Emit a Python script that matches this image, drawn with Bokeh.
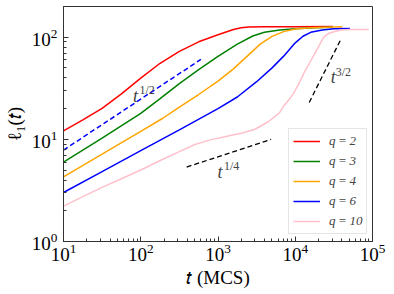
import math
from bokeh.plotting import figure
from bokeh.models import Label, Legend, LegendItem
from bokeh.embed import file_html
from bokeh.resources import INLINE

# ---- data ----
t_q2 = [10, 17.8, 31.6, 56.2, 100, 178, 316, 562, 1000, 1585, 1995, 2512, 3981, 10000, 30620]
l_q2 = [12.1, 15.5, 20.1, 27.9, 39.8, 55.6, 72.8, 90.2, 105.9, 118.9, 123.9, 125.9, 126.5, 126.8, 127.6]

t_q3 = [10, 31.6, 100, 178, 316, 562, 1000, 1778, 2818, 3981, 6310, 10000, 17780, 30200]
l_q3 = [5.98, 10.3, 18.0, 25.1, 35.1, 48.1, 64.9, 85.5, 102.8, 111.7, 118.0, 121.1, 123.6, 125.0]

t_q4 = [10, 31.6, 100, 193.2, 316, 562, 1000, 1585, 2512, 3548, 5012, 7079, 10000, 15850, 40740]
l_q4 = [4.30, 7.16, 12.0, 16.1, 20.7, 27.5, 37.2, 49.0, 67.6, 86.1, 101.9, 113.5, 120.2, 124.2, 126.5]

t_q6 = [10, 31.6, 100, 316, 1000, 1778, 3162, 5012, 7079, 10000, 12590, 15850, 22390, 31620, 51050]
l_q6 = [3.02, 4.84, 7.76, 12.4, 20.0, 26.0, 36.7, 50.1, 65.3, 88.1, 102.3, 111.7, 118.0, 120.8, 121.9]

t_q10 = [10, 17.8, 31.6, 56.2, 100, 187.5, 316, 503.5, 794, 1352, 1995, 2972, 4426, 6237,
         7228, 8511, 9727, 11220, 13060, 15140, 17580, 20420, 23660, 27540, 31770, 38730,
         50120, 89540]
l_q10 = [2.22, 2.75, 3.39, 4.12, 5.01, 6.31, 7.59, 8.91, 9.89, 10.8, 11.5, 12.5, 14.8, 18.2,
         21.6, 25.1, 29.1, 35.5, 45.2, 55.0, 67.6, 83.2, 101.4, 109.6, 113.2, 117.5,
         119.1, 119.4]

# guide lines (power laws)
t_half = [10, 601]
l_half = [7.85, 60.7]
t_threehalf = [15170, 39540]
l_threehalf = [23.0, 97.7]
t_quarter = [393, 4875]
l_quarter = [5.36, 10.0]

series_labels = ["q\u2009=\u20092", "q\u2009=\u20093", "q\u2009=\u20094",
                 "q\u2009=\u20096", "q\u2009=\u200910"]
series_colors = ["red", "green", "orange", "blue", "pink"]

SERIF = "Liberation Serif"
EDGE = "#333333"

p = figure(width=390, height=290, x_axis_type="log", y_axis_type="log",
           x_range=(10, 1e5), y_range=(1, 200),
           output_backend="svg", toolbar_location=None,
           min_border_left=61, min_border_right=18, min_border_top=6,
           min_border_bottom=43)
p.grid.visible = False
p.outline_line_color = EDGE
p.outline_line_width = 1
p.background_fill_color = "white"
p.border_fill_color = "white"

for ax in (p.xaxis[0], p.yaxis[0]):
    ax.major_tick_in = 5
    ax.major_tick_out = 0
    ax.minor_tick_in = 3
    ax.minor_tick_out = 0
    ax.axis_line_color = EDGE
    ax.major_tick_line_color = EDGE
    ax.minor_tick_line_color = EDGE
    ax.major_label_text_font = SERIF
    ax.major_label_text_font_size = "19px"
    ax.major_label_text_color = "black"
    ax.axis_label_text_font = SERIF
    ax.axis_label_text_font_size = "19px"
    ax.axis_label_text_font_style = "normal"
    ax.axis_label_text_color = "black"
p.xaxis.major_label_standoff = 2
p.yaxis.major_label_standoff = 6
p.xaxis.axis_label = "\U0001D461 (MCS)"
p.yaxis.axis_label = "\u2113\u2081(\U0001D461)"
p.xaxis.axis_label_standoff = 3
p.yaxis.axis_label_standoff = 4

data = [(t_q2, l_q2), (t_q3, l_q3), (t_q4, l_q4), (t_q6, l_q6), (t_q10, l_q10)]
items = []
for (tt, ll), lab, col in zip(data, series_labels, series_colors):
    r = p.line(tt, ll, line_color=col, line_width=1.5)
    items.append(LegendItem(label=lab, renderers=[r]))

p.line(t_half, l_half, line_color="blue", line_width=1.5, line_dash="5 3")
p.line(t_threehalf, l_threehalf, line_color="black", line_width=1.3, line_dash="5 3")
p.line(t_quarter, l_quarter, line_color="black", line_width=1.3, line_dash="5 3")

legend = Legend(items=items, location=(225, 7),
                label_text_font=SERIF, label_text_font_style="italic",
                label_text_font_size="13px",
                glyph_width=27, glyph_height=16, label_height=16,
                label_standoff=9, spacing=4, padding=4, margin=0,
                border_line_color="#cccccc", border_line_width=1,
                background_fill_alpha=0.8)
p.add_layout(legend, "center")

# power law annotations
def tlabel(x, y, sx, sy, sup):
    p.add_layout(Label(x=x, y=y, text="t", text_font=SERIF, text_font_style="italic",
                       text_font_size="18px", text_align="left",
                       text_baseline="alphabetic"))
    p.add_layout(Label(x=sx, y=sy, text=sup, text_font=SERIF,
                       text_font_size="12px", text_align="left",
                       text_baseline="alphabetic"))

tlabel(79.4, 26.8, 96.4, 30.6, "1/2")
tlabel(28840, 40.7, 33400, 45.5, "3/2")
tlabel(986, 4.80, 1194, 5.48, "1/4")

open("out.html", "w").write(file_html(p, INLINE))
